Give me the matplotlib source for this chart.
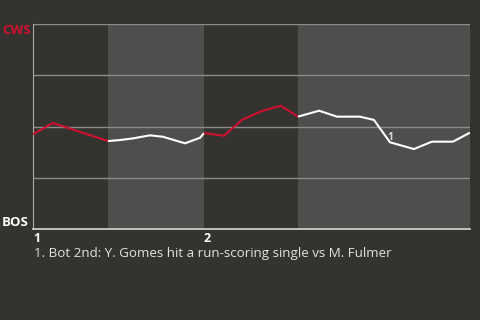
import matplotlib
matplotlib.use("Agg")
import matplotlib.pyplot as plt

# win probability for CWS over the game (x in innings)
x_vals = [1.0, 1.117, 1.439, 1.509, 1.585, 1.684, 1.760, 1.889, 1.977, 2.0,
          2.117, 2.222, 2.339, 2.450, 2.550, 2.673, 2.778, 2.912, 2.994,
          3.088, 3.228, 3.333, 3.456, 3.556]
y_vals = [0.463, 0.517, 0.429, 0.434, 0.442, 0.457, 0.450, 0.418, 0.445, 0.468,
          0.455, 0.532, 0.576, 0.601, 0.548, 0.577, 0.548, 0.548, 0.532,
          0.423, 0.390, 0.426, 0.426, 0.470]

# half-inning boundaries and who is batting
half_starts = [1.0, 1.439, 2.0, 2.550]
half_ends = [1.439, 2.0, 2.550, 3.556]
half_team = ["CWS", "BOS", "CWS", "BOS"]

events_x = [3.088]
events_y = [0.444]
events_label = ["1"]
caption = "1. Bot 2nd: Y. Gomes hit a run-scoring single vs M. Fulmer"

bg = "#353330"
band = "#4f4e4c"
red = "#d0102f"

fig = plt.figure(figsize=(4.8, 3.2), dpi=100, facecolor=bg)
ax = fig.add_axes([33 / 480, 91 / 320, 437 / 480, 205 / 320])
ax.set_facecolor(bg)

for s, e, t in zip(half_starts, half_ends, half_team):
    if t == "BOS":
        ax.axvspan(s, e, color=band, lw=0, zorder=0)

for yv in [0.25, 0.5, 0.75, 1.0]:
    ax.axhline(yv, color="#8c8b89", lw=1, zorder=1)

# line, colored by batting half
for s, e, t in zip(half_starts, half_ends, half_team):
    xs, ys = [], []
    for xv, yv in zip(x_vals, y_vals):
        if s - 1e-9 <= xv <= e + 1e-9:
            xs.append(xv)
            ys.append(yv)
    ax.plot(xs, ys, color=red if t == "CWS" else "white", lw=1.5,
            zorder=3, solid_capstyle="butt")

for xv, yv, lab in zip(events_x, events_y, events_label):
    ax.text(xv, yv, lab, color="#d8d8d8", fontsize=7.5, fontweight="bold",
            ha="center", va="center", family="Open Sans", zorder=4)

ax.set_xlim(1.0, 3.556)
ax.set_ylim(0, 1)
ax.set_xticks([1, 2])
ax.set_xticklabels([])
ax.set_yticks([])
for sp in ["top", "right"]:
    ax.spines[sp].set_visible(False)
ax.spines["left"].set_color("#a8a8a6")
ax.spines["bottom"].set_color("#d8d8d8")
ax.spines["bottom"].set_linewidth(1.2)
ax.tick_params(axis="x", length=0)

for t in [1, 2]:
    ax.text(t, -0.015, str(t), transform=ax.get_xaxis_transform(),
            color="white", fontsize=9, fontweight="bold", family="Open Sans",
            ha="left", va="top")

fig.text(2 / 480, 1 - 24 / 320, "CWS", color=red, fontsize=9.5,
         fontweight="bold", family="Open Sans", ha="left", va="top")
fig.text(2 / 480, 91 / 320, "BOS", color="white", fontsize=9.5,
         fontweight="bold", family="Open Sans", ha="left", va="bottom")

fig.text(34 / 480, 1 - 254 / 320, caption, color="#e2e2e2", fontsize=9.6,
         family="Open Sans", ha="left", va="center")

fig.savefig("out.png", dpi=100, facecolor=bg)
